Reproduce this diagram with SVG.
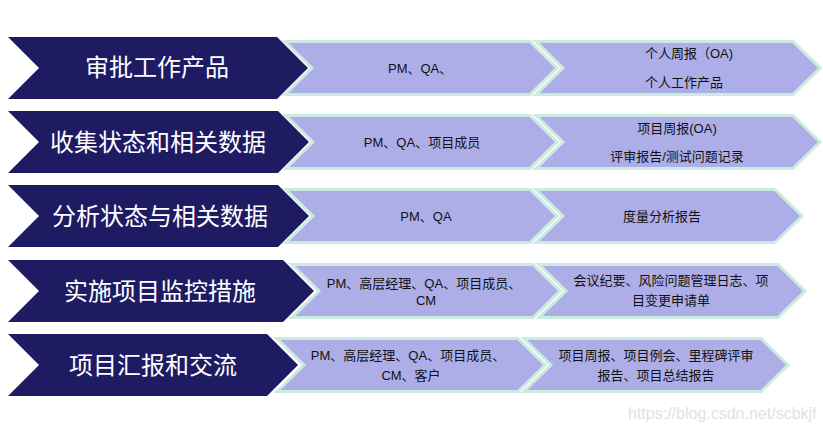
<svg xmlns="http://www.w3.org/2000/svg" width="823" height="432" viewBox="0 0 823 432">
<style>
.dark{fill:#1e1b63;}
.light{fill:#adaee7;stroke:#cbebe0;stroke-width:3;stroke-linejoin:miter;}
.dt{fill:#ffffff;font-family:"Noto Sans CJK SC","Liberation Sans",sans-serif;font-size:24px;text-anchor:middle;}
.lt{fill:#111111;font-family:"Liberation Sans","Noto Sans CJK SC",sans-serif;font-size:13px;text-anchor:middle;}
.wm{fill:#e2e2e2;font-family:"Liberation Sans",sans-serif;font-size:16px;}
</style>
<rect width="823" height="432" fill="#ffffff"/>
<g id="connectors"></g>
<g id="row1" transform="translate(0,37)">
<polygon class="dark" points="8,0 277,0 308,31 277,62 8,62 39,31"/>
<polygon class="light" points="285,4.5 530,4.5 557,31 530,57.5 285,57.5 312,31"/>
<polygon class="light" points="536,4.5 793,4.5 820,31 793,57.5 536,57.5 563,31"/>
<text class="dt" x="157" y="39">审批工作产品</text>
<text class="lt" x="388" y="36" style="text-anchor:start">PM、QA、</text>
<text class="lt" x="645" y="21" style="text-anchor:start">个人周报（OA)</text>
<text class="lt" x="645" y="50" style="text-anchor:start">个人工作产品</text>
</g>
<g id="row2" transform="translate(0,111)">
<polygon class="dark" points="8,0 278,0 309,31 278,62 8,62 39,31"/>
<polygon class="light" points="286,4.5 530,4.5 557,31 530,57.5 286,57.5 313,31"/>
<polygon class="light" points="536,4.5 793,4.5 820,31 793,57.5 536,57.5 563,31"/>
<text class="dt" x="158" y="40">收集状态和相关数据</text>
<text class="lt" x="422" y="36">PM、QA、项目成员</text>
<text class="lt" x="677" y="22">项目周报(OA)</text>
<text class="lt" x="677" y="50">评审报告/测试问题记录</text>
</g>
<g id="row3" transform="translate(0,185)">
<polygon class="dark" points="8,0 278,0 309,31 278,62 8,62 39,31"/>
<polygon class="light" points="286,4.5 530,4.5 557,31 530,57.5 286,57.5 313,31"/>
<polygon class="light" points="536,4.5 775,4.5 802,31 775,57.5 536,57.5 563,31"/>
<text class="dt" x="160" y="40">分析状态与相关数据</text>
<text class="lt" x="426" y="36">PM、QA</text>
<text class="lt" x="662" y="36">度量分析报告</text>
</g>
<g id="row4" transform="translate(0,260)">
<polygon class="dark" points="8,0 283,0 314,31 283,62 8,62 39,31"/>
<polygon class="light" points="292,4.5 533,4.5 560,31 533,57.5 292,57.5 319,31"/>
<polygon class="light" points="539,4.5 778,4.5 805,31 778,57.5 539,57.5 566,31"/>
<text class="dt" x="160" y="40">实施项目监控措施</text>
<text class="lt" x="424" y="28">PM、高层经理、QA、项目成员、</text>
<text class="lt" x="426" y="45">CM</text>
<text class="lt" x="671" y="25">会议纪要、风险问题管理日志、项</text>
<text class="lt" x="671" y="45">目变更申请单</text>
</g>
<g id="row5" transform="translate(0,334)">
<polygon class="dark" points="8,0 267,0 298,31 267,62 8,62 39,31"/>
<polygon class="light" points="277,4.5 518,4.5 545,31 518,57.5 277,57.5 304,31"/>
<polygon class="light" points="524,4.5 761,4.5 788,31 761,57.5 524,57.5 551,31"/>
<text class="dt" x="153" y="40">项目汇报和交流</text>
<text class="lt" x="408" y="26">PM、高层经理、QA、项目成员、</text>
<text class="lt" x="411" y="46">CM、客户</text>
<text class="lt" x="656" y="26">项目周报、项目例会、里程碑评审</text>
<text class="lt" x="656" y="46">报告、项目总结报告</text>
</g>
<text class="wm" x="628" y="419">https://blog.csdn.net/scbkjf</text>
</svg>
